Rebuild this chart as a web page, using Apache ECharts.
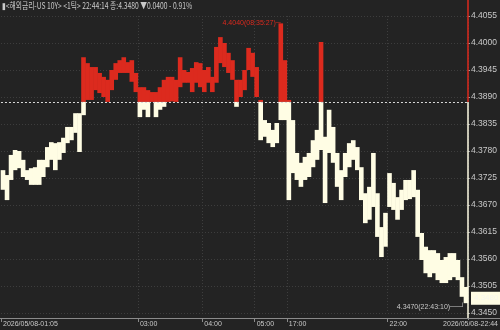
<!DOCTYPE html>
<html><head><meta charset="utf-8">
<script src="https://cdn.jsdelivr.net/npm/echarts@6/dist/echarts.min.js"></script>
<style>html,body{margin:0;padding:0;background:#232323;}#c{width:500px;height:330px;}</style>
</head><body><div id="c"></div>
<script>
const REF = 4.3880;
const LAST = 4.3480;
const highs = [4.3741,4.3731,4.3772,4.3782,4.3780,4.3762,4.3741,4.3745,4.3747,4.3762,
4.3762,4.3788,4.3798,4.3796,4.3798,4.3807,4.3829,4.3829,4.3857,4.3857,
4.3971,4.3959,4.3951,4.3951,4.3939,4.3931,4.3925,4.3945,4.3959,4.3965,
4.3971,4.3961,4.3965,4.3939,4.3910,4.3910,4.3904,4.3900,4.3900,4.3910,
4.3925,4.3931,4.3931,4.3925,4.3971,4.3945,4.3941,4.3949,4.3961,4.3959,
4.3945,4.3951,4.3931,4.3992,4.4012,4.4000,4.3980,4.3965,4.3925,4.3925,
4.3945,4.3990,4.3980,4.3951,4.3884,4.3843,4.3837,4.3823,4.3837,4.4040,
4.3965,4.3884,4.3843,4.3776,4.3756,4.3768,4.3776,4.3802,4.3823,4.4002,
4.3809,4.3864,4.3829,4.3776,4.3741,4.3776,4.3796,4.3802,4.3788,4.3747,
4.3694,4.3707,4.3776,4.3694,4.3625,4.3654,4.3735,4.3715,4.3686,4.3701,
4.3721,4.3721,4.3741,4.3701,4.3613,4.3585,4.3578,4.3578,4.3572,4.3558,
4.3564,4.3572,4.3572,4.3558,4.3523,4.3503];
const lows = [4.3701,4.3680,4.3721,4.3741,4.3745,4.3727,4.3721,4.3711,4.3711,4.3711,
4.3727,4.3747,4.3762,4.3741,4.3762,4.3776,4.3796,4.3802,4.3817,4.3778,
4.3853,4.3884,4.3884,4.3904,4.3898,4.3890,4.3880,4.3904,4.3925,4.3939,
4.3939,4.3939,4.3921,4.3900,4.3849,4.3864,4.3849,4.3880,4.3849,4.3864,
4.3870,4.3880,4.3881,4.3880,4.3910,4.3919,4.3919,4.3900,4.3919,4.3910,
4.3900,4.3919,4.3900,4.3919,4.3959,4.3951,4.3939,4.3925,4.3870,4.3890,
4.3904,4.3945,4.3931,4.3890,4.3802,4.3809,4.3796,4.3788,4.3796,4.3843,
4.3843,4.3680,4.3735,4.3721,4.3707,4.3721,4.3727,4.3747,4.3762,4.3782,
4.3674,4.3776,4.3756,4.3707,4.3680,4.3727,4.3747,4.3762,4.3741,4.3680,
4.3633,4.3640,4.3666,4.3605,4.3564,4.3585,4.3666,4.3660,4.3640,4.3660,
4.3680,4.3682,4.3686,4.3605,4.3558,4.3531,4.3523,4.3531,4.3517,4.3511,
4.3511,4.3517,4.3523,4.3517,4.3483,4.3470];
const tickIndex = [0, 34, 50, 63, 71, 96];
const tickText = ['2026/05/08-01:05', '03:00', '04:00', '05:00', '17:00', '22:00'];
const endLabel = '2026/05/08-22:44';
const headerText = '▮<해외금리-US 10Y> <1틱> 22:44:14 종:4.3480 ▼0.0400 - 0.91%';
const maxInfo = {idx: 69, value: 4.4040, time: '08:35:27'};
const minInfo = {idx: 115, value: 4.3470, time: '22:43:10'};
const yTicks = {min: 4.3450, max: 4.4055, interval: 0.0055};

const N = highs.length;
const categories = [];
for (let i = 0; i < N; i++) {
  const k = tickIndex.indexOf(i);
  categories.push(k >= 0 ? tickText[k] : '');
}
const data = highs.map((h, i) => [i, lows[i], h]);

const RED = '#dc2a1e', CREAM = '#fffde4', TXT = '#c9c9c9';
const FONT = '"Liberation Sans", Arial, sans-serif';
const chart = echarts.init(document.getElementById('c'), null, {renderer: 'canvas'});
const option = {
  backgroundColor: '#232323',
  animation: false,
  textStyle: {fontFamily: FONT},
  grid: {left: 0, right: 32, top: 16, bottom: 17},
  xAxis: {
    type: 'category', data: categories, boundaryGap: true, offset: 5,
    axisLine: {lineStyle: {color: '#8a8a8a', width: 1}},
    axisTick: {show: true, length: 4, lineStyle: {color: '#8a8a8a'},
      interval: (i) => tickIndex.indexOf(i) >= 0},
    axisLabel: {color: TXT, fontSize: 7, fontFamily: FONT, align: 'left', margin: 3,
      interval: (i) => tickIndex.indexOf(i) >= 0},
    splitLine: {show: true, interval: (i) => tickIndex.indexOf(i) > 0,
      lineStyle: {color: '#3e3e3e', type: [1, 2]}}
  },
  yAxis: {
    type: 'value', position: 'right',
    min: yTicks.min, max: yTicks.max, interval: yTicks.interval,
    axisLine: {show: false},
    axisTick: {show: true, length: 2, lineStyle: {color: '#9a9a9a'}},
    axisLabel: {color: TXT, fontSize: 8.5, fontFamily: FONT, margin: 3, formatter: (v) => v.toFixed(4)},
    splitLine: {show: true, lineStyle: {color: '#3e3e3e', type: [1, 2]}}
  },
  series: [{
    type: 'custom',
    data: data,
    encode: {x: 0, y: [1, 2]},
    clip: false,
    renderItem: function (params, api) {
      const i = api.value(0), lo = api.value(1), hi = api.value(2);
      const w = api.size([1, 0])[0] + 0.6;
      const pHi = api.coord([i, hi]), pLo = api.coord([i, lo]), pRef = api.coord([i, REF]);
      const x = pHi[0] - w / 2;
      const ch = [];
      if (hi > REF) {
        const b = lo > REF ? pLo[1] : pRef[1];
        ch.push({type: 'rect', shape: {x: x, y: pHi[1], width: w, height: Math.max(1, b - pHi[1])},
          style: {fill: RED}});
      }
      if (lo < REF) {
        const t = hi < REF ? pHi[1] : pRef[1];
        ch.push({type: 'rect', shape: {x: x, y: t, width: w, height: Math.max(1, pLo[1] - t)},
          style: {fill: CREAM}});
      }
      return {type: 'group', children: ch};
    }
  }, {
    type: 'line', data: [], silent: true, z: 5,
    markLine: {
      silent: true, symbol: 'none', animation: false, precision: 4,
      data: [
        {yAxis: REF, lineStyle: {color: '#d8d8d8', type: [2, 2], width: 1}, label: {show: false}},
        {yAxis: LAST, lineStyle: {color: 'rgba(0,0,0,0)', width: 0}, label: {show: true, position: 'end', distance: 3,
          formatter: LAST.toFixed(4), color: '#f6f6ee', backgroundColor: CREAM, fontSize: 8,
          fontFamily: FONT, padding: [3, 3, 2, 3]}}
      ]
    },
    markPoint: {
      silent: true, symbol: 'circle', symbolSize: 0, animation: false,
      data: [
        {coord: [maxInfo.idx, maxInfo.value], label: {show: true, position: 'left', distance: 0,
          formatter: maxInfo.value.toFixed(4) + '(' + maxInfo.time + ')─', color: RED, fontSize: 7, fontFamily: FONT}},
        {coord: [minInfo.idx, minInfo.value], label: {show: true, position: 'left', distance: 1, offset: [0, 4],
          formatter: minInfo.value.toFixed(4) + '(' + minInfo.time + ')──┘', color: TXT, fontSize: 7, fontFamily: FONT}}
      ]
    }
  }]
};
chart.setOption(option);

// right axis line: red above previous close, cream below
const yRef = chart.convertToPixel({yAxisIndex: 0}, REF);
const gx = 468;
chart.setOption({
  graphic: [
    {type: 'line', shape: {x1: gx, y1: 0, x2: gx, y2: yRef}, style: {stroke: RED, lineWidth: 1.5}, z: 10},
    {type: 'line', shape: {x1: gx, y1: yRef, x2: gx, y2: 318}, style: {stroke: CREAM, lineWidth: 1.5}, z: 10},
    {type: 'line', shape: {x1: 0, y1: 318.5, x2: 500, y2: 318.5}, style: {stroke: '#8a8a8a', lineWidth: 1}, z: 9},
    {type: 'text', x: 2, y: 1, scaleX: 0.75, z: 11,
      style: {text: headerText, fill: TXT, fontSize: 9, fontFamily: '"Noto Sans CJK KR", sans-serif'}},
    {type: 'text', right: 1, bottom: 1, z: 11,
      style: {text: endLabel, fill: TXT, fontSize: 7, fontFamily: FONT,
        backgroundColor: '#232323', padding: [1, 1]}}
  ]
});
</script></body></html>
